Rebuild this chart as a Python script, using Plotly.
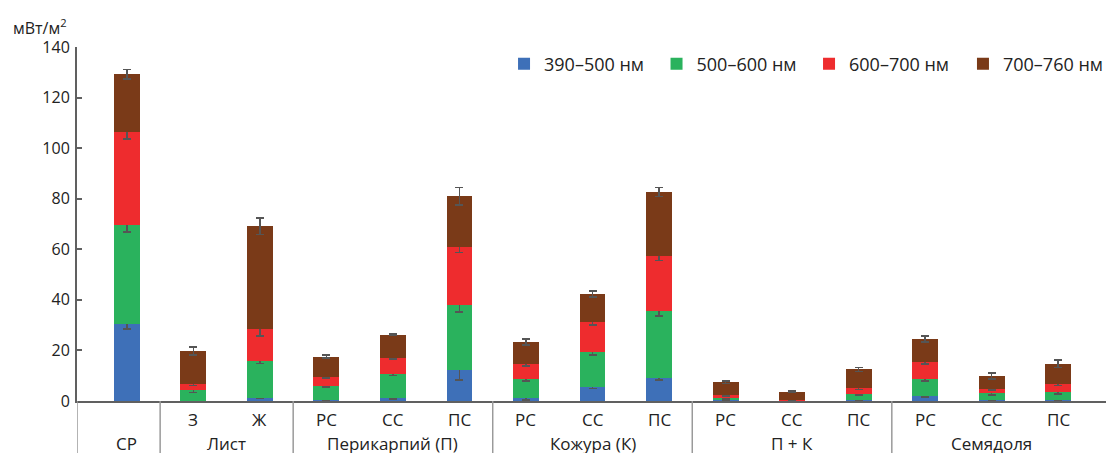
import plotly.graph_objects as go

# ---- data ----
sub_labels = ["", "З", "Ж", "РС", "СС", "ПС", "РС", "СС", "ПС", "РС", "СС", "ПС", "РС", "СС", "ПС"]
group_labels = ["СР", "Лист", "Перикарпий (П)", "Кожура (К)", "П + К", "Семядоля"]
group_sizes = [1, 2, 3, 3, 3, 3]

series_names = ["390–500 нм", "500–600 нм", "600–700 нм", "700–760 нм"]
series_colors = ["#3E70B8", "#2AB25D", "#EE2C2E", "#7A3A18"]

blue  = [30.5, 0.0, 1.3, 0.3, 1.3, 12.4, 1.0, 5.5, 9.1, 0.2, 0.1, 0.3, 1.8, 0.5, 0.5]
green = [39.0, 4.3, 14.5, 5.7, 9.4, 25.5, 7.7, 14.0, 26.5, 1.0, 0.2, 2.5, 6.9, 2.5, 3.2]
red   = [37.0, 2.3, 12.8, 3.5, 6.3, 23.2, 5.9, 11.8, 21.7, 1.2, 0.2, 2.2, 6.7, 1.9, 3.1]
brown = [22.7, 13.2, 40.5, 8.1, 9.3, 19.8, 8.7, 11.1, 25.3, 5.0, 3.1, 7.5, 9.1, 5.0, 7.9]

blue_err  = [2.0, 0.0, 0.3, 0.3, 0.5, 4.0, 0.5, 0.5, 0.9, 0.2, 0.1, 0.3, 0.3, 0.3, 0.3]
green_err = [2.6, 1.0, 1.0, 0.5, 0.6, 2.8, 0.8, 1.2, 1.9, 0.5, 0.2, 0.5, 0.9, 0.6, 0.9]
red_err   = [2.9, 0.5, 2.8, 0.5, 0.5, 2.4, 0.7, 1.2, 1.8, 0.5, 0.2, 0.4, 0.7, 0.6, 0.6]
brown_err = [1.9, 1.6, 3.2, 0.7, 0.3, 3.5, 1.2, 1.2, 1.8, 0.5, 0.3, 0.8, 1.2, 1.1, 1.4]

y_ticks = [0, 20, 40, 60, 80, 100, 120, 140]
unit_label = "мВт/м<sup>2</sup>"

values = [blue, green, red, brown]
errors = [blue_err, green_err, red_err, brown_err]

FONT = "Open Sans"
AXIS_COLOR = "#606060"
SEP_COLOR = "#9A9A9A"
TEXT_COLOR = "#222222"

x = list(range(len(sub_labels)))

fig = go.Figure()
for k, (name, col, vals, errs) in enumerate(zip(series_names, series_colors, values, errors)):
    fig.add_trace(go.Bar(
        x=x, y=vals, name=name,
        marker=dict(color=col, line=dict(width=0)),
        width=0.39,
        legend="legend" if k < 3 else "legend2",
        error_y=dict(type="data", array=errs, visible=True,
                     color="#555555", thickness=1.6, width=4),
    ))

# category annotations and separators
annotations = []
shapes = []
for i, lab in enumerate(sub_labels):
    if lab:
        annotations.append(dict(x=i, y=-0.053, xref="x", yref="paper", text=lab,
                                showarrow=False, yanchor="middle",
                                font=dict(family=FONT, size=17, color=TEXT_COLOR)))
start = 0
bounds = [-0.75]
for g, n in zip(group_labels, group_sizes):
    center = start + (n - 1) / 2
    annotations.append(dict(x=center, y=-0.12, xref="x", yref="paper", text=g,
                            showarrow=False, yanchor="middle",
                            font=dict(family=FONT, size=17, color=TEXT_COLOR)))
    start += n
    if start < len(sub_labels):
        bounds.append(start - 0.5)
for b in bounds:
    shapes.append(dict(type="line", xref="x", yref="paper", x0=b, x1=b, y0=0, y1=-0.16,
                       line=dict(color=SEP_COLOR, width=1.5)))

annotations.append(dict(x=0, y=1, xref="paper", yref="paper", xanchor="left", yanchor="top",
                        xshift=-66, yshift=34, text=unit_label, showarrow=False,
                        font=dict(family=FONT, size=16, color=TEXT_COLOR)))

legend_common = dict(orientation="h", y=0.952, xanchor="left", yanchor="middle",
                     font=dict(family=FONT, size=18, color=TEXT_COLOR),
                     itemwidth=30, traceorder="normal", bgcolor="rgba(0,0,0,0)")

fig.update_layout(
    width=1106, height=453,
    margin=dict(l=77, r=0, t=47, b=52, autoexpand=False),
    barmode="stack",
    plot_bgcolor="white", paper_bgcolor="white",
    font=dict(family=FONT, size=16, color=TEXT_COLOR),
    showlegend=True,
    legend=dict(x=0.415, entrywidth=107.5, **legend_common),
    legend2=dict(x=0.861, **legend_common),
    annotations=annotations,
    shapes=shapes,
)
fig.update_xaxes(range=[-0.75, 14.72], showticklabels=False, ticks="",
                 showline=True, linecolor=AXIS_COLOR, linewidth=2,
                 showgrid=False, zeroline=False)
fig.update_yaxes(range=[0, 140], tickvals=y_ticks, ticks="inside", ticklen=5,
                 tickcolor=AXIS_COLOR, tickwidth=1.5,
                 showline=True, linecolor=AXIS_COLOR, linewidth=2,
                 showgrid=False, zeroline=False, ticklabelstandoff=2,
                 tickfont=dict(family=FONT, size=16, color=TEXT_COLOR))

fig.write_html("out.html",
               config={"displayModeBar": False},
               post_script="document.body.style.margin='0';document.body.style.overflow='hidden';")
